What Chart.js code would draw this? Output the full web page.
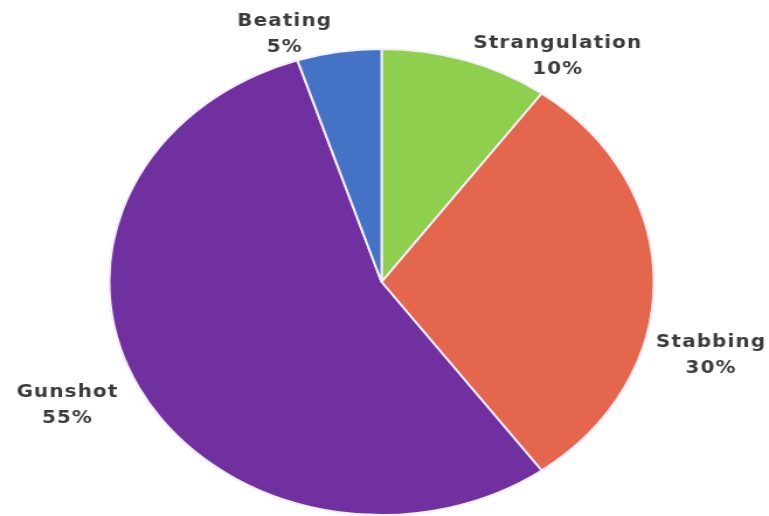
<!DOCTYPE html>
<html>
<head>
<meta charset="utf-8">
<script src="https://cdn.jsdelivr.net/npm/chart.js@4/dist/chart.umd.min.js"></script>
<style>
  html, body { margin: 0; padding: 0; background: #fff; overflow: hidden; }
  /* the source image is stretched sideways, so draw narrower and scale x */
  #wrap { position: absolute; left: 0; top: 0; width: 658px; height: 516px;
          transform: scaleX(1.1687); transform-origin: 0 0; }
</style>
</head>
<body>
<div id="wrap"><canvas id="myChart"></canvas></div>
<script>
const categories = ['Strangulation', 'Stabbing', 'Gunshot', 'Beating'];
const shares = [10, 30, 55, 5];
const sliceColors = ['#8fcf4e', '#e4674d', '#7030a0', '#4472c4'];

// hand placement of the outside labels, relative to the slice middle
const labelNudge = [[68, 29], [14, 74], [-30, 2], [-41, 17]];

const outerLabels = {
  id: 'outerLabels',
  afterDatasetsDraw(chart, args, opts) {
    const ctx = chart.ctx;
    const meta = chart.getDatasetMeta(0);
    ctx.save();
    ctx.font = opts.font;
    ctx.letterSpacing = opts.spacing;
    ctx.fillStyle = opts.color;
    ctx.textAlign = 'center';
    ctx.textBaseline = 'middle';
    meta.data.forEach((arc, i) => {
      const p = arc.getProps(['x', 'y', 'startAngle', 'endAngle', 'outerRadius'], true);
      const mid = (p.startAngle + p.endAngle) / 2;
      const r = p.outerRadius * opts.radiusFactor;
      const ax = p.x + Math.cos(mid) * r + labelNudge[i][0];
      const ay = p.y + Math.sin(mid) * r + labelNudge[i][1];
      ctx.fillText(categories[i], ax, ay - opts.lineGap / 2);
      ctx.fillText(shares[i] + '%', ax, ay + opts.lineGap / 2);
    });
    ctx.restore();
  }
};

const data = {
  labels: categories,
  datasets: [{
    data: shares,
    backgroundColor: sliceColors,
    borderColor: '#f4eefa',
    borderWidth: 2
  }]
};

const config = {
  type: 'pie',
  data: data,
  options: {
    responsive: true,
    maintainAspectRatio: false,
    animation: false,
    layout: { padding: { top: 48, right: 5, bottom: 0, left: 0 } },
    plugins: {
      legend: { display: false },
      tooltip: { enabled: false },
      outerLabels: {
        font: 'bold 17px "DejaVu Sans"',
        spacing: '1px',
        color: '#3b3b3b',
        radiusFactor: 1.15,
        lineGap: 26
      }
    }
  },
  plugins: [outerLabels]
};

const myChart = new Chart(document.getElementById('myChart').getContext('2d'), config);
</script>
</body>
</html>
